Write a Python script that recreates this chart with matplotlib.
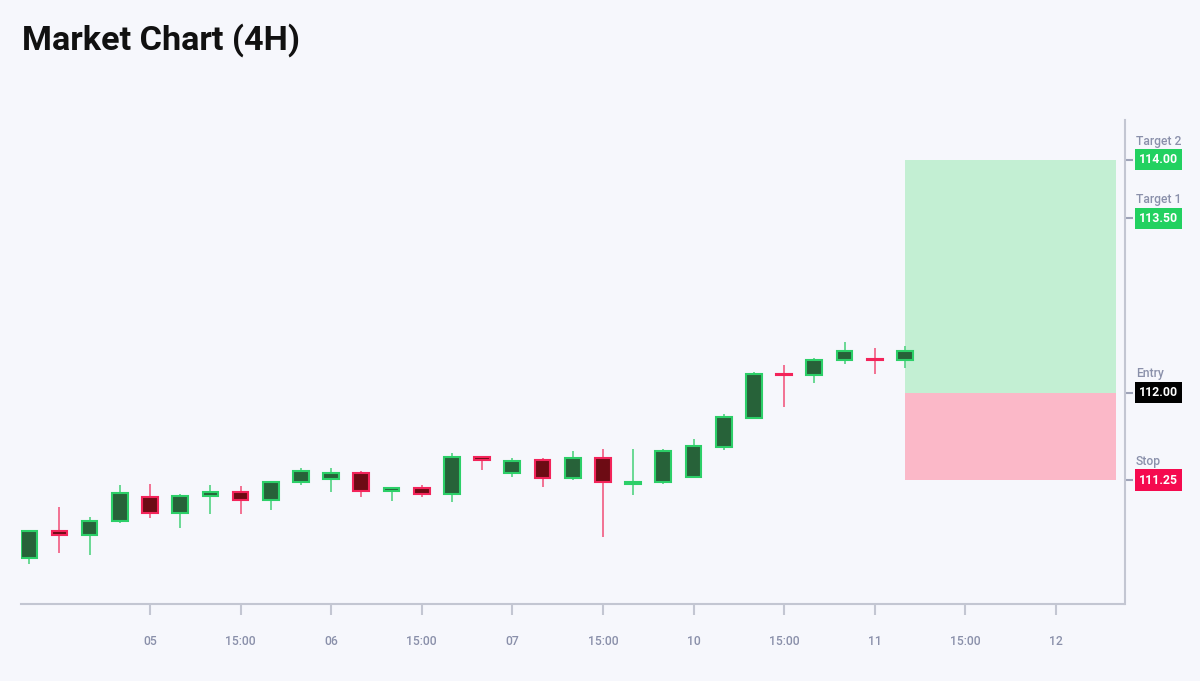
import matplotlib
matplotlib.use("Agg")
import matplotlib.pyplot as plt
from matplotlib.patches import Rectangle
from matplotlib.transforms import blended_transform_factory, offset_copy

plt.rcParams['font.family'] = ['Roboto', 'DejaVu Sans']

# ---- data ----
opens  = [110.58, 110.81, 110.78, 110.90, 111.10, 110.97, 111.11, 111.15, 111.08, 111.23,
          111.26, 111.31, 111.16, 111.18, 111.13, 111.45, 111.31, 111.42, 111.27, 111.44,
          111.22, 111.23, 111.28, 111.53, 111.78, 112.16, 112.15, 112.28, 112.29, 112.28]
highs  = [110.82, 111.02, 110.93, 111.21, 111.22, 111.13, 111.21, 111.20, 111.23, 111.35,
          111.35, 111.33, 111.18, 111.21, 111.48, 111.45, 111.44, 111.44, 111.50, 111.52,
          111.52, 111.52, 111.60, 111.82, 112.18, 112.24, 112.30, 112.44, 112.38, 112.40]
lows   = [110.53, 110.62, 110.61, 110.88, 110.92, 110.84, 110.96, 110.96, 110.99, 111.21,
          111.15, 111.10, 111.07, 111.10, 111.06, 111.34, 111.28, 111.19, 111.25, 110.76,
          111.12, 111.22, 111.28, 111.51, 111.78, 111.88, 112.08, 112.25, 112.16, 112.21]
closes = [110.81, 110.78, 110.90, 111.14, 110.97, 111.11, 111.15, 111.08, 111.23, 111.33,
          111.31, 111.16, 111.18, 111.13, 111.45, 111.42, 111.41, 111.27, 111.44, 111.23,
          111.23, 111.50, 111.54, 111.79, 112.16, 112.15, 112.28, 112.36, 112.28, 112.36]

tick_idx = [4, 7, 10, 13, 16, 19, 22, 25, 28, 31, 34]
tick_labels = ['05', '15:00', '06', '15:00', '07', '15:00', '10', '15:00', '11', '15:00', '12']

level_names = ['Target 2', 'Target 1', 'Entry', 'Stop']
level_values = [114.00, 113.50, 112.00, 111.25]
level_colors = ['#22d160', '#22d160', '#000000', '#f50a4f']

entry_price = 112.00
stop_price = 111.25
target_price = 114.00
box_start, box_end = 29, 36

# ---- style ----
bg = '#f6f7fc'
bull_fill, bull_edge, bull_wick = '#276239', '#2ccf68', '#5fd68c'
bear_fill, bear_edge, bear_wick = '#6d0b14', '#f3245a', '#f2668a'
grey_txt = '#8a90aa'
axis_col = '#c3c6d2'

fig = plt.figure(figsize=(12, 6.81), dpi=100, facecolor=bg)
W, H = 1200, 681
left_px, right_px, bottom_px, top_px = 21, 1124.5, 604, 120
ax = fig.add_axes([left_px / W, 1 - bottom_px / H, (right_px - left_px) / W, (bottom_px - top_px) / H])
ax.set_facecolor(bg)

ax.set_xlim(-0.27, 36.27)
ax.set_ylim(110.185, 114.343)

# trade box
ax.add_patch(Rectangle((box_start, entry_price), box_end - box_start, target_price - entry_price,
                       facecolor='#c3efd3', edgecolor='none', zorder=1))
ax.add_patch(Rectangle((box_start, stop_price), box_end - box_start, entry_price - stop_price,
                       facecolor='#fbb8c8', edgecolor='none', zorder=1))

# candles
width = 0.52
for i, (o, h, l, c) in enumerate(zip(opens, highs, lows, closes)):
    bull = c >= o
    wick = bull_wick if bull else bear_wick
    ax.vlines(i, l, h, color=wick, linewidth=1.3, zorder=2)
    bottom = min(o, c)
    height = max(abs(c - o), 0.004)
    edge = bull_edge if bull else bear_edge
    fill = bull_fill if bull else bear_fill
    if abs(c - o) < 0.015:
        fill = edge
    ax.add_patch(Rectangle((i - width / 2, bottom), width, height,
                           facecolor=fill, edgecolor=edge, linewidth=1.5, zorder=3))

# spines
for s in ['top', 'left']:
    ax.spines[s].set_visible(False)
ax.spines['bottom'].set_color(axis_col)
ax.spines['right'].set_color(axis_col)
ax.spines['bottom'].set_linewidth(1.5)
ax.spines['right'].set_linewidth(1.5)

ax.set_xticks(tick_idx)
ax.set_xticklabels(tick_labels)
ax.tick_params(axis='x', length=8, width=1.5, color=axis_col, pad=14,
               labelsize=8.7, labelcolor=grey_txt)
for t in ax.get_xticklabels():
    t.set_fontweight('medium')

ax.yaxis.tick_right()
ax.set_yticks(level_values)
ax.set_yticklabels([])
ax.tick_params(axis='y', length=6, width=1.5, color='#9ea3b8', pad=0)

trans = blended_transform_factory(ax.transAxes, ax.transData)
x_lab = (1139 - left_px) / (right_px - left_px)
x_name = (1136 - left_px) / (right_px - left_px)
for name, val, col in zip(level_names, level_values, level_colors):
    ax.text(x_lab, val, f'{val:.2f}', transform=trans, ha='left', va='center',
            fontsize=8.8, fontweight='bold', color='white', clip_on=False,
            bbox=dict(boxstyle='square,pad=0.33', facecolor=col, edgecolor='none'))
    ax.text(x_name, val, name, transform=offset_copy(trans, fig=fig, x=0, y=13.5, units='points'),
            ha='left', va='center', fontsize=8.7, fontweight='medium', color=grey_txt, clip_on=False)

fig.text(22 / W, 1 - 40 / H, 'Market Chart (4H)', fontsize=24.7, fontweight='bold',
         color='#111111', ha='left', va='center')

fig.savefig('out.png', dpi=100, facecolor=bg)
